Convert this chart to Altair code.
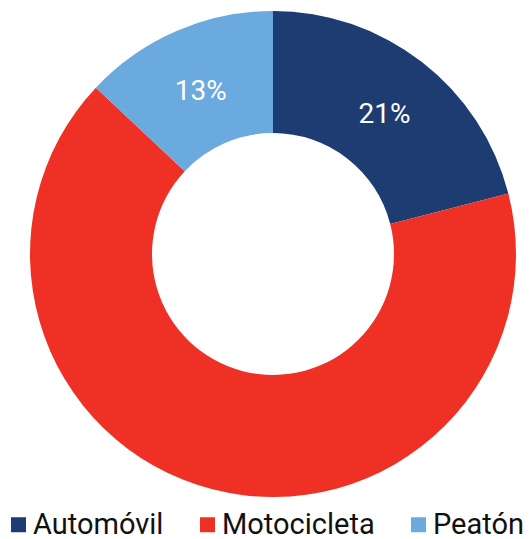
import altair as alt
import pandas as pd

categories = ["Automóvil", "Motocicleta", "Peatón"]
values = [21, 66, 13]
labels = ["21%", "", "13%"]
colors = ["#1c3c72", "#ee3124", "#6aaade"]

df = pd.DataFrame({
    "categoria": categories,
    "valor": values,
    "etiqueta": labels,
    "orden": list(range(len(categories))),
})

base = alt.Chart(df).encode(
    theta=alt.Theta("valor:Q", stack=True),
    order=alt.Order("orden:Q"),
    x=alt.value(265),
    y=alt.value(246),
)

arcs = base.mark_arc(outerRadius=243, innerRadius=121, stroke=None).encode(
    color=alt.Color(
        "categoria:N",
        scale=alt.Scale(domain=categories, range=colors),
        sort=categories,
        legend=alt.Legend(
            title=None,
            orient="none",
            direction="horizontal",
            legendX=-4,
            legendY=502,
            symbolType="square",
            symbolSize=225,
            symbolStrokeWidth=0,
            labelFont="Roboto",
            labelFontSize=29,
            labelColor="#111111",
            labelOffset=0,
            columnPadding=29,
            padding=0,
            labelLimit=400,
        ),
    )
)

text = base.mark_text(radius=182, font="Roboto", fontSize=28, color="white",
                      baseline="middle", align="center", dy=5).encode(
    text="etiqueta:N"
)

chart = (arcs + text).properties(
    width=516, height=530, padding=0, autosize=alt.AutoSizeParams(type="none")
).configure_view(stroke=None)

chart.save("out.html", embed_options={"renderer": "svg", "actions": False})
